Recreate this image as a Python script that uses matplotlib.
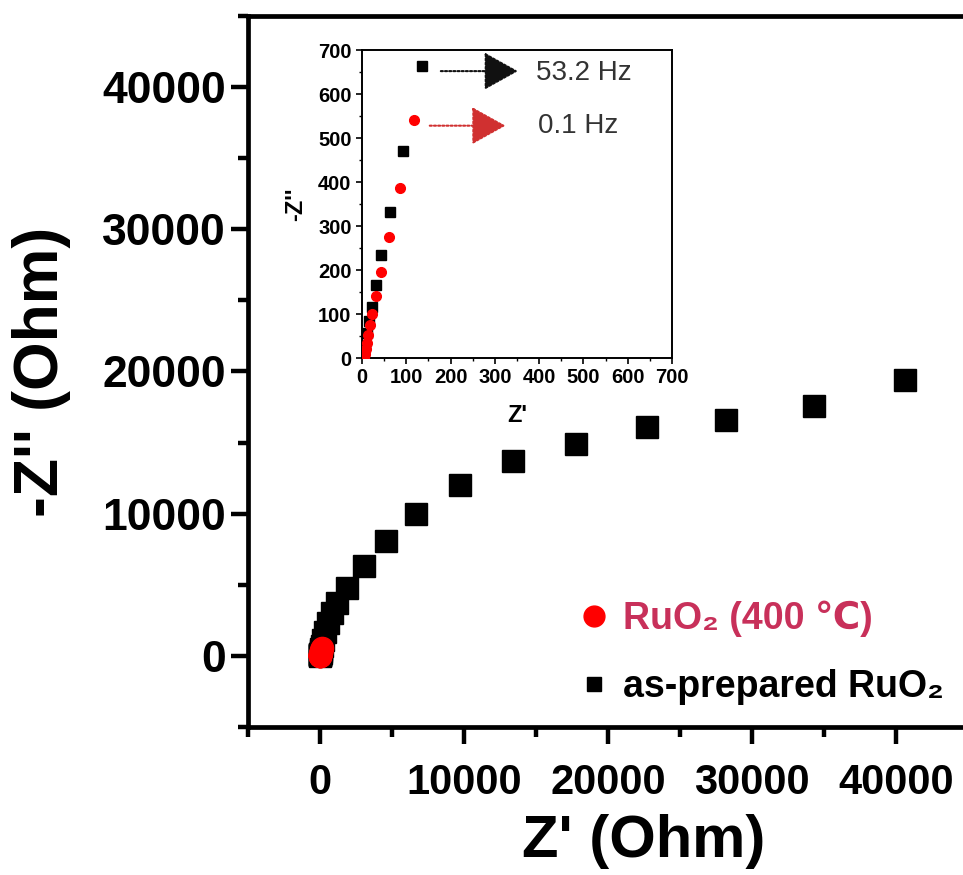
import matplotlib
matplotlib.use("Agg")
import matplotlib.pyplot as plt
from matplotlib.lines import Line2D
from matplotlib.ticker import MultipleLocator, FixedLocator

plt.rcParams["font.family"] = ["Liberation Sans", "DejaVu Sans"]
plt.rcParams["font.weight"] = "bold"

# --- data (Ohm) ----------------------------------------------------------------
# as-prepared RuO2 (black squares)
asprep_x = [3.8, 7.5, 11.3, 16.6, 22.6, 31.6, 43.7, 62.5, 91.8, 135.5,
            230, 380, 560, 800, 1200, 1900, 3050, 4600, 6700, 9700,
            13400, 17800, 22700, 28200, 34300, 40600]
asprep_y = [11, 30, 57, 83, 117, 166, 234, 332, 470, 664,
            1100, 1650, 2300, 3000, 3700, 4800, 6350, 8100, 10000, 12000,
            13700, 14900, 16100, 16600, 17600, 19400]

# RuO2 annealed at 400 C (red circles)
ann_x = [4.5, 5.3, 6.8, 8.3, 10.5, 13.5, 17.3, 23.3, 31.6, 43.7, 60.2, 85.0, 116.7]
ann_y = [0, 4, 10, 20, 34, 53, 74, 100, 140, 196, 274, 386, 542]

main_ticks = [0, 10000, 20000, 30000, 40000]
inset_ticks = [0, 100, 200, 300, 400, 500, 600, 700]

fig = plt.figure(figsize=(9.63, 8.75), dpi=100)

# main axes runs past the right edge of the canvas, like the cropped original
ax = fig.add_axes([248 / 963, 148 / 875, (1040 - 248) / 963, (727 - 16) / 875])
ax.plot(asprep_x, asprep_y, "s", color="black", ms=16, zorder=3)
ax.plot(ann_x, ann_y, "o", color="#FF0000", ms=16, zorder=4)

ax.set_xlim(-5000, 50000)
ax.set_ylim(-5000, 45000)
ax.xaxis.set_major_locator(FixedLocator(main_ticks))
ax.yaxis.set_major_locator(FixedLocator(main_ticks))
ax.xaxis.set_minor_locator(MultipleLocator(5000))
ax.yaxis.set_minor_locator(MultipleLocator(5000))
for s in ax.spines.values():
    s.set_linewidth(3.4)
ax.tick_params(which="both", direction="out", length=12, width=3.2, color="black")
ax.tick_params(which="minor", length=7)
ax.tick_params(axis="x", which="major", labelsize=30, pad=14)
ax.tick_params(axis="y", which="major", labelsize=32, pad=4)
ax.set_xlabel("Z' (Ohm)", fontsize=43, fontweight="bold", labelpad=8)
ax.set_ylabel("-Z'' (Ohm)", fontsize=45, fontweight="bold", labelpad=22)

handles = [
    Line2D([], [], ls="none", marker="o", color="#FF0000", ms=15, label="RuO₂ (400 ℃)"),
    Line2D([], [], ls="none", marker="s", color="black", ms=10.5, label="as-prepared RuO₂"),
]
ax.legend(handles=handles, loc="upper left", bbox_to_anchor=(565 / 963, 1 - 582 / 875),
          bbox_transform=fig.transFigure, frameon=False, handlelength=0.55,
          handletextpad=0.5, labelspacing=0.85, borderpad=0,
          prop=dict(size=27, weight="bold"), labelcolor=["#C8305A", "black"])

# --- inset -------------------------------------------------------------------
axi = fig.add_axes([362 / 963, (875 - 358) / 875, 310 / 963, (358 - 50) / 875])
axi.plot(asprep_x, asprep_y, "s", color="black", ms=6.5, zorder=3)
axi.plot(ann_x, ann_y, "o", color="#FF0000", ms=7, zorder=4)
axi.set_xlim(0, 700)
axi.set_ylim(0, 700)
axi.xaxis.set_major_locator(FixedLocator(inset_ticks))
axi.yaxis.set_major_locator(FixedLocator(inset_ticks))
axi.xaxis.set_minor_locator(MultipleLocator(50))
axi.yaxis.set_minor_locator(MultipleLocator(50))
for s in axi.spines.values():
    s.set_linewidth(1.4)
axi.tick_params(which="both", direction="out", length=4, width=1.2, color="black")
axi.tick_params(which="minor", length=2, width=1)
axi.tick_params(which="major", labelsize=14.5)
axi.set_xlabel("Z'", fontsize=17, fontweight="bold", labelpad=12)
axi.set_ylabel("-Z''", fontsize=17, fontweight="bold", labelpad=8)

# frequency call-outs: dotted arrows with solid heads
axi.annotate("", xy=(352, 652), xytext=(178, 652),
             arrowprops=dict(arrowstyle="-|>,head_length=0.9,head_width=0.5",
                             linestyle=(0, (1, 1)), lw=1.5, color="#111111",
                             mutation_scale=24, shrinkA=0, shrinkB=0))
axi.text(393, 648, "53.2 Hz", fontsize=20, fontweight="normal", color="#333333",
         va="center", ha="left")
axi.annotate("", xy=(324, 528), xytext=(153, 528),
             arrowprops=dict(arrowstyle="-|>,head_length=0.9,head_width=0.5",
                             linestyle=(0, (1, 1)), lw=1.5, color="#D03030",
                             mutation_scale=24, shrinkA=0, shrinkB=0))
axi.text(397, 528, "0.1 Hz", fontsize=20, fontweight="normal", color="#333333",
         va="center", ha="left")

fig.savefig("out.png", dpi=100)
